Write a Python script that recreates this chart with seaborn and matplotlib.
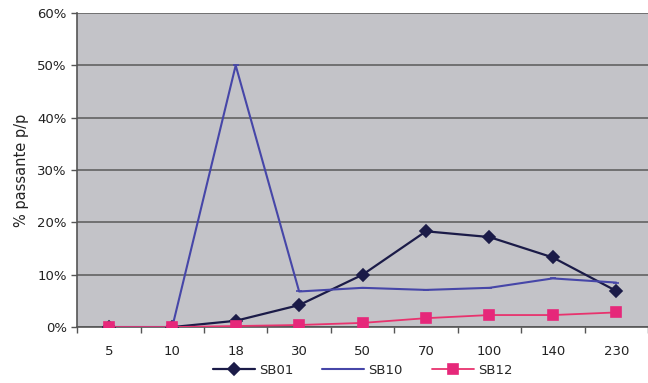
import numpy as np
import pandas as pd
import seaborn as sns
import matplotlib.pyplot as plt
from matplotlib.ticker import PercentFormatter, FixedLocator

# tailles de maille
categories = ['5', '10', '18', '30', '50', '70', '100', '140', '230']
sb01 = [0.0, 0.0, 1.2, 4.2, 10.0, 18.3, 17.2, 13.3, 6.9]
sb10 = [0.0, 0.0, 50.0, 6.8, 7.5, 7.1, 7.5, 9.3, 8.5]
sb12 = [0.0, 0.0, 0.2, 0.4, 0.8, 1.7, 2.3, 2.3, 2.8]

df = pd.DataFrame({'maille': categories, 'SB01': sb01, 'SB10': sb10, 'SB12': sb12})
long = df.melt(id_vars='maille', var_name='serie', value_name='pct')
long['pos'] = long['maille'].map({c: i for i, c in enumerate(categories)})

sns.set_style('white')
plt.rcParams['font.family'] = ['DejaVu Sans']

fig = plt.figure(figsize=(6.48, 3.83), dpi=100)
ax = fig.add_axes([0.119, 0.146, 0.881, 0.82])
ax.set_facecolor('#c3c3c8')

styles = {
    'SB01': dict(color='#1b1b48', marker='D', ms=6.3, lw=1.6, mfc='#1b1b48', mec='#1b1b48'),
    'SB10': dict(color='#4646a8', marker='_', ms=5, lw=1.5, mfc='#4646a8', mec='#4646a8'),
    'SB12': dict(color='#e8336e', marker='s', ms=7, lw=1.3, mfc='#e6287a', mec='#e6287a'),
}
for name, st in styles.items():
    d = long[long['serie'] == name]
    sns.lineplot(data=d, x='pos', y='pct', ax=ax, label=name, color=st['color'],
                 marker=st['marker'], markersize=st['ms'], linewidth=st['lw'],
                 markerfacecolor=st['mfc'], markeredgecolor=st['mec'], markeredgewidth=1.2,
                 sort=False, zorder=3)

ax.set_xlim(-0.5, len(categories) - 0.5)
ax.set_ylim(0, 60)
ax.set_yticks(np.arange(0, 61, 10))
ax.yaxis.set_major_formatter(PercentFormatter(decimals=0))
ax.set_xticks(range(len(categories)))
ax.set_xticklabels(categories)
ax.xaxis.set_minor_locator(FixedLocator(np.arange(-0.5, len(categories), 1.0)))
ax.tick_params(axis='x', which='major', length=0, pad=13, labelsize=9.5, colors='#222222')
ax.tick_params(axis='x', which='minor', length=4, width=1, color='#555555', bottom=True)
ax.tick_params(axis='y', length=4, width=1, color='#555555', left=True, labelsize=9.5, colors='#222222')
ax.grid(axis='y', color='#5a5a5a', linewidth=1.1, zorder=1)
ax.set_axisbelow(True)
ax.set_xlabel('')
ax.set_ylabel('% passante p/p', fontsize=10.5, color='#222222', labelpad=6)

for s in ['left', 'bottom']:
    ax.spines[s].set_color('#555555')
    ax.spines[s].set_linewidth(1.2)
for s in ['top', 'right']:
    ax.spines[s].set_visible(False)

leg = ax.legend(loc='center', bbox_to_anchor=(0.5, -0.137), ncol=3, frameon=False,
                fontsize=9.5, handlelength=3.2, columnspacing=2.2, handletextpad=0.3,
                borderpad=0.1)

fig.savefig('out.png', dpi=100, facecolor='white')
